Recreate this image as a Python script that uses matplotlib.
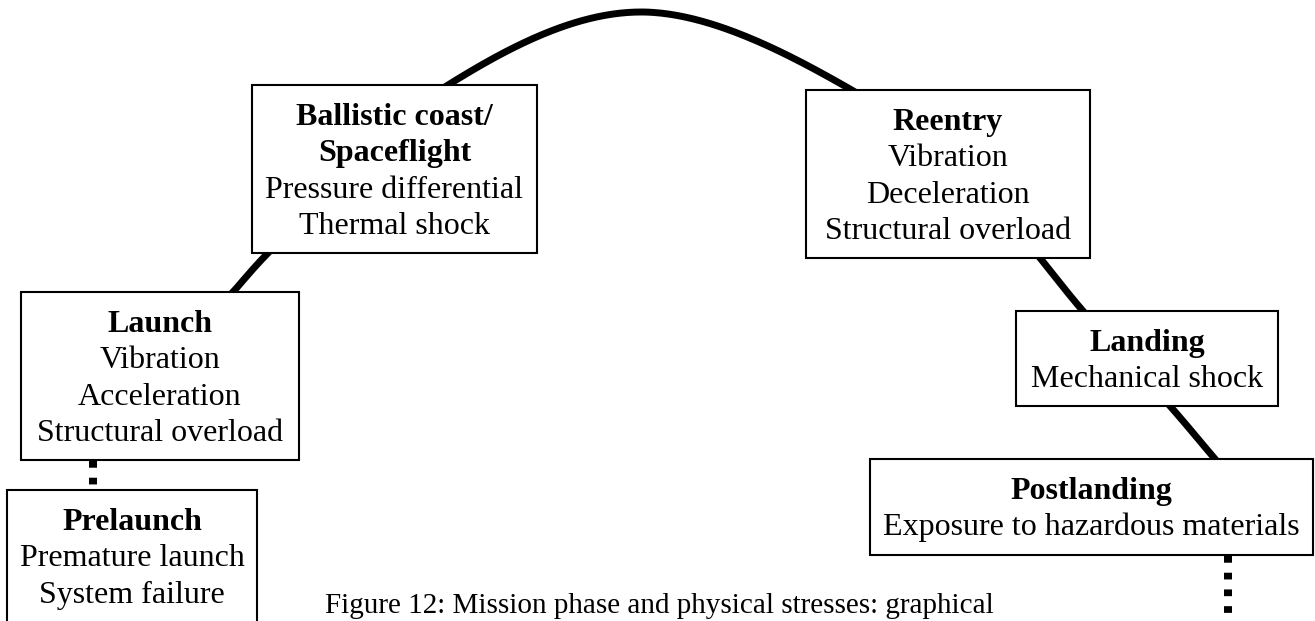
import numpy as np
import matplotlib
matplotlib.use("Agg")
import matplotlib.pyplot as plt
from matplotlib.patches import Rectangle

# ---- content ----
phases = ["Prelaunch", "Launch", "Ballistic coast/\nSpaceflight", "Reentry", "Landing", "Postlanding"]
stresses = [
    ["Premature launch", "System failure"],
    ["Vibration", "Acceleration", "Structural overload"],
    ["Pressure differential", "Thermal shock"],
    ["Vibration", "Deceleration", "Structural overload"],
    ["Mechanical shock"],
    ["Exposure to hazardous materials"],
]
caption = "Figure 12: Mission phase and physical stresses: graphical"

# ---- layout (pixel coordinates, y downwards) ----
traj_x = [220, 233, 268, 448, 640, 850, 1008, 1040, 1083, 1170, 1215, 1228]
traj_y = [306, 292, 253, 85, 12, 89, 219, 258, 311, 406, 459, 474]
box_left = [7, 21, 252, 806, 1016, 870]
box_top = [490, 292, 85, 90, 311, 459]
box_right = [257, 299, 537, 1090, 1278, 1313]
box_bottom = [640, 460, 253, 258, 406, 555]
conn_x = [93, 1228]
conn_y0 = [461, 556]
conn_y1 = [488, 613]

FONT = "Liberation Serif"
FS = 23


def catmull_rom(P, n=80, alpha=0.5):
    P = np.asarray(P, float)
    P = np.vstack([2 * P[0] - P[1], P, 2 * P[-1] - P[-2]])
    out = []
    for i in range(len(P) - 3):
        p0, p1, p2, p3 = P[i:i + 4]
        t0 = 0.0
        t1 = t0 + np.linalg.norm(p1 - p0) ** alpha
        t2 = t1 + np.linalg.norm(p2 - p1) ** alpha
        t3 = t2 + np.linalg.norm(p3 - p2) ** alpha
        t = np.linspace(t1, t2, n)[:, None]
        A1 = (t1 - t) / (t1 - t0) * p0 + (t - t0) / (t1 - t0) * p1
        A2 = (t2 - t) / (t2 - t1) * p1 + (t - t1) / (t2 - t1) * p2
        A3 = (t3 - t) / (t3 - t2) * p2 + (t - t2) / (t3 - t2) * p3
        B1 = (t2 - t) / (t2 - t0) * A1 + (t - t0) / (t2 - t0) * A2
        B2 = (t3 - t) / (t3 - t1) * A2 + (t - t1) / (t3 - t1) * A3
        C = (t2 - t) / (t2 - t1) * B1 + (t - t1) / (t2 - t1) * B2
        out.append(C)
    return np.vstack(out)


fig = plt.figure(figsize=(13.15, 6.21), dpi=100)
ax = fig.add_axes([0, 0, 1, 1])
ax.set_xlim(0, 1315)
ax.set_ylim(621, 0)
ax.axis("off")

curve = catmull_rom(list(zip(traj_x, traj_y)))
ax.plot(curve[:, 0], curve[:, 1], color="black", lw=5.0, solid_capstyle="butt", zorder=1)

for x, y0, y1 in zip(conn_x, conn_y0, conn_y1):
    ax.plot([x, x], [y0, y1], color="black", lw=5.76, linestyle=(0, (0.84, 1.25)),
            dash_capstyle="butt", zorder=1)

for i, (title, items) in enumerate(zip(phases, stresses)):
    l, t, r, b = box_left[i], box_top[i], box_right[i], box_bottom[i]
    ax.add_patch(Rectangle((l, t), r - l, b - t, facecolor="white", edgecolor="black",
                           lw=1.5, zorder=2))
    cx = (l + r) / 2
    lines = [(s, "bold") for s in title.split("\n")] + [(s, "normal") for s in items]
    for j, (s, w) in enumerate(lines):
        ax.text(cx, t + 40 + 36.3 * j, s, ha="center", va="baseline", fontsize=FS,
                fontweight=w, family=FONT, zorder=3)

ax.text(325, 613, caption, ha="left", va="baseline", fontsize=21, family=FONT, zorder=3)

fig.savefig("out.png", dpi=100)
